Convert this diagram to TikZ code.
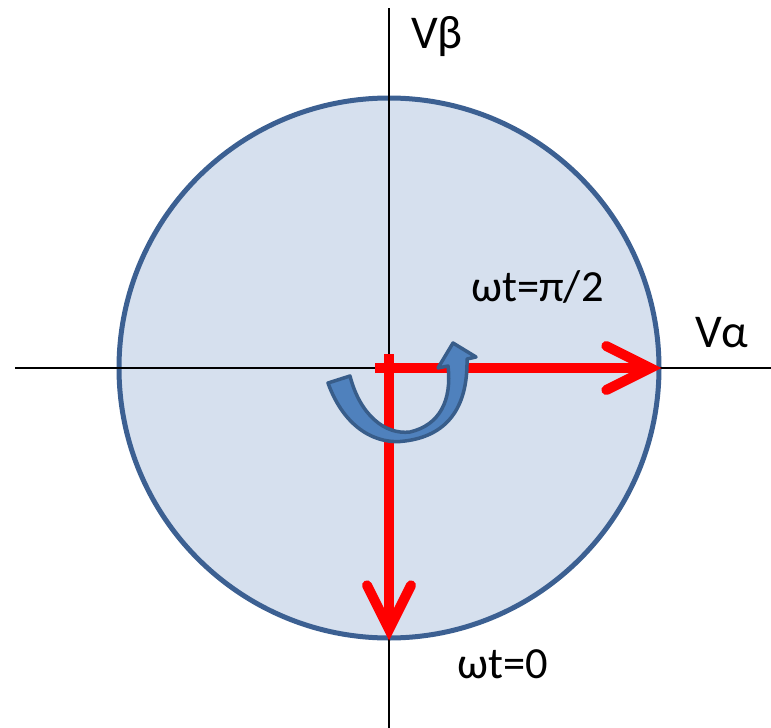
\documentclass[tikz,border=0pt]{standalone}
\usepackage{fontspec}
\setmainfont{Carlito}
\usetikzlibrary{arrows.meta}
\definecolor{circfill}{RGB}{214,224,238}
\definecolor{circedge}{RGB}{60,96,146}
\definecolor{arrfill}{RGB}{79,129,189}
\definecolor{arredge}{RGB}{56,93,138}
\tikzset{
  axis/.style={line width=2pt, black},
  vec/.style={line width=10pt, red, -{Straight Barb[length=44pt,width=44pt,line cap=round,line join=miter]}},
  lbl/.style={font=\fontsize{47}{47}\selectfont, anchor=base west, inner sep=0pt},
  lblsmall/.style={font=\fontsize{44.5}{44.5}\selectfont, anchor=base west, inner sep=0pt},
}
\begin{document}
\begin{tikzpicture}[x=1pt,y=-1pt]
\useasboundingbox (0,0) rectangle (771,728);
% circle
\coordinate (O) at (389,368);
\node[circle, minimum size=540pt, inner sep=0pt, draw=circedge, line width=5pt, fill=circfill] (C) at (O) {};
% axes
\coordinate (xl) at (15,368);
\coordinate (xr) at (771,368);
\coordinate (yt) at (389,8);
\coordinate (yb) at (389,728);
\draw[axis] (xl) -- (xr);
\draw[axis] (yt) -- (yb);
% red vectors
\coordinate (hs) at (375,368);
\coordinate (vs) at (389,354);
\draw[vec] (hs) -- (C.east);
\draw[vec] (vs) -- (C.south);
% curved blue arrow
\draw[fill=arrfill, draw=arredge, line width=3.5pt, line join=round]
  (328,383) .. controls (345,430) and (378,445) .. (405,441)
  .. controls (445,436) and (468,410) .. (467,359)
  -- (476,357) -- (453,343) -- (438,368) -- (448,366)
  .. controls (452,400) and (440,425) .. (410,432)
  .. controls (385,435) and (360,415) .. (350,376) -- cycle;
% labels
\node[lbl] (vb) at (411,48) {Vβ};
\node[lbl] (va) at (695,347) {Vα};
\node[lblsmall] (w2) at (471,301) {ωt=π/2};
\node[lblsmall] (w0) at (457,678) {ωt=0};
\end{tikzpicture}
\end{document}
